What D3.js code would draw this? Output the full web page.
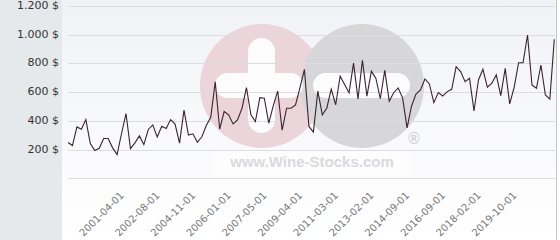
<!DOCTYPE html>
<html>

<head>
    <title>Price chart</title>
    <script src="https://d3js.org/d3.v7.min.js"></script>
    <style>
        body { margin: 0; background: #fff; }
        text { font-family: "DejaVu Sans", Verdana, sans-serif; }
    </style>
</head>

<body>
    <svg width="560" height="240"></svg>

    <script>
        // price per point (one point per trade date)
        let prices = [249, 228, 358, 342, 409, 242, 193, 209, 277, 277, 212, 165, 312, 451, 207, 247, 295, 235, 340, 372,
            288, 363, 347, 409, 378, 245, 475, 301, 310, 251, 289, 367, 425, 672, 342, 465, 442, 379, 407, 488,
            632, 442, 395, 562, 558, 384, 504, 607, 335, 488, 488, 511, 632, 758, 361, 322, 607, 442, 488, 621,
            512, 711, 653, 595, 802, 553, 822, 572, 745, 697, 554, 752, 537, 596, 629, 560, 351, 504, 587, 615,
            692, 657, 527, 597, 573, 604, 620, 778, 743, 673, 696, 469, 685, 759, 634, 662, 720, 576, 766, 518,
            634, 805, 805, 998, 650, 627, 789, 580, 552, 968];

        // labelled points on the x axis
        let tickIndex = [12, 20, 28, 36, 44, 52, 60, 68, 76, 84, 92, 100];
        let tickLabels = ["2001-04-01", "2002-08-01", "2004-11-01", "2006-01-01", "2007-05-01", "2009-04-01",
            "2011-03-01", "2013-02-01", "2014-09-01", "2016-09-01", "2018-02-01", "2019-10-01"];

        let yTicks = [0, 200, 400, 600, 800, 1000, 1200];

        let svg = d3.select("svg"),
            width = +svg.attr("width"),
            height = +svg.attr("height");

        let x = d3.scaleLinear().domain([0, prices.length - 1]).range([68, 554.3]);
        let y = d3.scaleLinear().domain([0, 1200]).range([178.3, 6]);

        // backgrounds
        let grad = svg.append("defs").append("linearGradient")
            .attr("id", "bg").attr("x1", 0).attr("y1", 0).attr("x2", 0).attr("y2", 1);
        grad.append("stop").attr("offset", "0%").attr("stop-color", "#f1f2f6");
        grad.append("stop").attr("offset", "100%").attr("stop-color", "#ffffff");

        svg.append("rect").attr("x", 62).attr("y", 0).attr("width", 494).attr("height", height)
            .attr("fill", "url(#bg)");
        svg.append("rect").attr("x", 0).attr("y", 0).attr("width", 62).attr("height", height)
            .attr("fill", "#e6e9ec");
        svg.append("line").attr("x1", 556.5).attr("x2", 556.5).attr("y1", 0).attr("y2", height)
            .attr("stroke", "#c4c5c8");

        // watermark (under the grid)
        let wm = svg.append("g");
        wm.append("circle").attr("cx", 262).attr("cy", 86).attr("r", 62).attr("fill", "#ecd5da");
        wm.append("circle").attr("cx", 362).attr("cy", 86).attr("r", 62).attr("fill", "#d7d7d9");
        wm.append("rect").attr("x", 248).attr("y", 38).attr("width", 27).attr("height", 95)
            .attr("rx", 13.5).attr("fill", "#fcfcfd");
        wm.append("rect").attr("x", 215).attr("y", 73).attr("width", 88).attr("height", 25)
            .attr("rx", 12.5).attr("fill", "#fcfcfd");
        wm.append("rect").attr("x", 313).attr("y", 73).attr("width", 97).attr("height", 25)
            .attr("rx", 12.5).attr("fill", "#fcfcfd");
        wm.append("text").attr("x", 414).attr("y", 144).attr("text-anchor", "middle")
            .attr("font-size", "15px").attr("fill", "#cfcfd1").text("®");
        wm.append("rect").attr("x", 212).attr("y", 150).attr("width", 200).attr("height", 24)
            .attr("fill", "#fff").attr("opacity", 0.5);
        wm.append("text").attr("x", 312).attr("y", 167).attr("text-anchor", "middle")
            .style("font-family", "'Liberation Sans', Arial, sans-serif")
            .attr("font-weight", "bold").attr("font-size", "15px")
            .attr("fill", "#dadadc").text("www.Wine-Stocks.com");

        // grid
        svg.append("g").selectAll("line").data(yTicks).join("line")
            .attr("x1", 68).attr("x2", 555)
            .attr("y1", d => Math.round(y(d)) + 0.5).attr("y2", d => Math.round(y(d)) + 0.5)
            .attr("stroke", "#dcdde1");

        svg.append("g").selectAll("text").data(yTicks.filter(d => d > 0)).join("text")
            .attr("x", 59).attr("y", d => y(d) + 3)
            .attr("text-anchor", "end")
            .attr("font-size", "11px")
            .attr("fill", "#333")
            .text(d => d3.format(",")(d).replace(",", ".") + " $");

        // price line
        let line = d3.line().x((d, i) => x(i)).y(d => y(d));
        svg.append("path").datum(prices)
            .attr("d", line)
            .attr("fill", "none")
            .attr("stroke", "#3b2230")
            .attr("stroke-width", 1.1)
            .attr("stroke-linejoin", "miter");

        // x labels
        svg.append("g").selectAll("text").data(tickIndex).join("text")
            .attr("transform", (d, i) => `translate(${x(d) + 3},196) rotate(-45)`)
            .attr("text-anchor", "end")
            .attr("font-size", "10px")
            .attr("fill", "#777")
            .text((d, i) => tickLabels[i]);
    </script>
</body>

</html>
